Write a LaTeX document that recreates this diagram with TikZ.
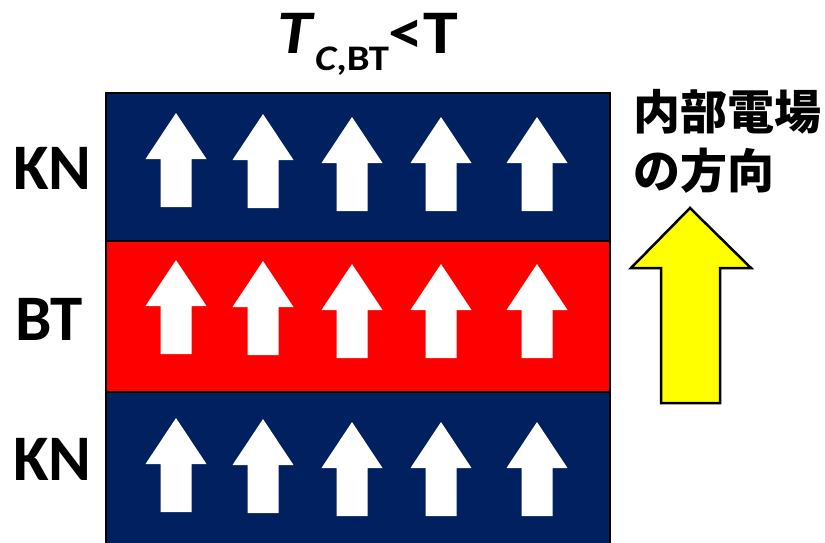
\documentclass[tikz,border=0pt]{standalone}
\usepackage{fontspec}
\setmainfont{Carlito}
\newfontfamily\jpfont{Noto Sans CJK JP}
\definecolor{layerblue}{HTML}{002060}
\definecolor{layerred}{HTML}{FF0000}
\definecolor{fieldyellow}{HTML}{FFFF00}
\tikzset{
  side label/.style={font=\bfseries\fontsize{65}{65}\selectfont, inner sep=0pt},
  dipole/.pic={\fill[white] (0,0) -- (30.5,46) -- (15.5,46) -- (15.5,94) -- (-15.5,94) -- (-15.5,46) -- (-30.5,46) -- cycle;},
  jp label/.style={font=\jpfont\bfseries\fontsize{47}{47}\selectfont, inner sep=0pt, anchor=west}
}
\begin{document}
\begin{tikzpicture}[x={(1pt,0)}, y={(0,-1pt)}]
\useasboundingbox (0,0) rectangle (825,542);
% three stacked layers
\fill[layerblue] (106,93) rectangle (610,241);
\fill[layerred] (106,241) rectangle (610,392);
\fill[layerblue] (106,392) rectangle (610,545);
\draw[line width=2pt] (106,545) -- (106,93) -- (610,93) -- (610,545);
\draw[line width=2pt] (106,241) -- (610,241);
\draw[line width=2pt] (106,392) -- (610,392);
% polarisation arrows in each layer
\foreach \cx/\dy in {176/0, 263/1, 352/4, 441/4, 537/4} {
  \pic at (\cx,113+\dy) {dipole};
  \pic at (\cx,260+\dy) {dipole};
  \pic at (\cx,418+\dy) {dipole};
}
% layer names
\node[side label] (kn1) at (52.5,168) {KN};
\node[side label] (bt) at (49,319) {BT};
\node[side label] (kn2) at (52.5,459) {KN};
% title
\node[inner sep=0pt, anchor=base, font=\bfseries\fontsize{62}{62}\selectfont] (title) at (368,53)
  {\scalebox{1.13}[1]{\textit{T}\raisebox{-17pt}{\fontsize{36}{36}\selectfont\textit{C},BT}<T}};
% internal field direction
\node[jp label] (fieldA) at (633,112) {内部電場};
\node[jp label] (fieldB) at (633,171) {の方向};
\draw[fill=fieldyellow, line width=2.5pt, line join=miter]
  (690,208) -- (751,268) -- (720,268) -- (720,403) -- (661,403) -- (661,268) -- (631,268) -- cycle;
\end{tikzpicture}
\end{document}
